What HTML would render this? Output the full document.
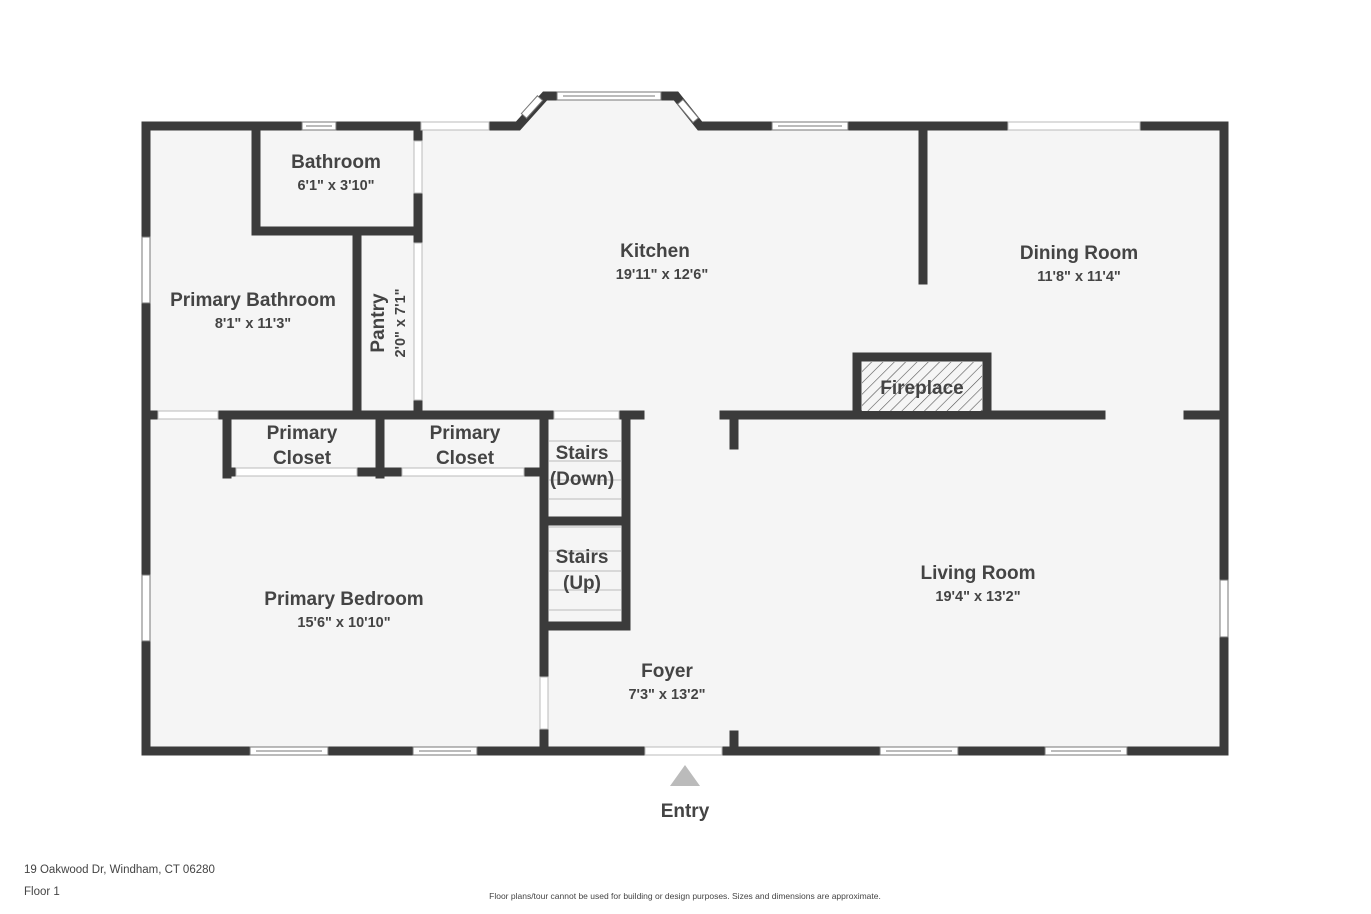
<!DOCTYPE html>
<html><head><meta charset="utf-8"><style>
html,body{margin:0;padding:0;background:#fff;}
svg{display:block;}
text{font-family:"Liberation Sans",sans-serif;fill:#444;}
.b{font-weight:bold;font-size:19px;}
.d{font-weight:bold;font-size:14.5px;}
</style></head><body>
<svg width="1371" height="914" viewBox="0 0 1371 914" xmlns="http://www.w3.org/2000/svg">
<defs>
<pattern id="h" width="8" height="8" patternUnits="userSpaceOnUse" patternTransform="rotate(45)">
<rect width="8" height="8" fill="#f5f5f5"/><line x1="0" y1="0" x2="0" y2="8" stroke="#555" stroke-width="1.2"/>
</pattern>
</defs>
<!-- floor -->
<polygon points="146,126 518,126 545,96 676,96 700,126 1224,126 1224,751 146,751" fill="#f5f5f5"/>
<g stroke="#3b3b3b" stroke-width="9" fill="none" stroke-linecap="square">
<!-- outer -->
<polyline points="146,751 146,126 490,126"/>
<polyline points="490,126 518,126 545,96 676,96 700,126 1224,126 1224,751 146,751"/>
<!-- bathroom -->
<line x1="256" y1="126" x2="256" y2="231"/>
<line x1="256" y1="231" x2="418" y2="231"/>
<line x1="418" y1="126" x2="418" y2="415"/>
<line x1="357" y1="231" x2="357" y2="415"/>
<!-- y=415 -->
<line x1="146" y1="415" x2="640" y2="415"/>
<line x1="227" y1="415" x2="227" y2="474"/>
<line x1="380" y1="415" x2="380" y2="474"/>
<line x1="227" y1="472" x2="544" y2="472"/>
<line x1="544" y1="415" x2="544" y2="751"/>
<line x1="626" y1="415" x2="626" y2="626"/>
<line x1="544" y1="521" x2="626" y2="521"/>
<line x1="544" y1="626" x2="626" y2="626"/>
<!-- right interior -->
<line x1="923" y1="126" x2="923" y2="280"/>
<line x1="724" y1="415" x2="1101" y2="415"/>
<line x1="1188" y1="415" x2="1224" y2="415"/>
<line x1="734" y1="415" x2="734" y2="445"/>
<line x1="734" y1="735" x2="734" y2="751"/>
<rect x="857" y="357" width="130" height="58"/>
</g>
<rect x="862" y="362" width="120" height="49" fill="url(#h)"/>
<!-- openings (white gaps) -->
<g fill="#fff" stroke="#bbb" stroke-width="1">
<rect x="421" y="122" width="68" height="8"/>
<rect x="414" y="141" width="8" height="52"/>
<rect x="414" y="243" width="8" height="157"/>
<rect x="158" y="411" width="60" height="8"/>
<rect x="236" y="468" width="121" height="8"/>
<rect x="402" y="468" width="122" height="8"/>
<rect x="554" y="411" width="65" height="8"/>
<rect x="540" y="677" width="8" height="52"/>
<rect x="645" y="747" width="77" height="8"/>
<rect x="1008" y="122" width="132" height="8"/>
</g>
<!-- windows -->
<g fill="#fff" stroke="#777" stroke-width="1">
<rect x="302" y="122" width="34" height="8"/><line x1="306" y1="126" x2="332" y2="126"/>
<rect x="557" y="92" width="104" height="8"/><line x1="563" y1="96" x2="655" y2="96"/>
<rect x="772" y="122" width="76" height="8"/><line x1="778" y1="126" x2="842" y2="126"/>
<rect x="142" y="237" width="8" height="66"/>
<rect x="142" y="575" width="8" height="66"/>
<rect x="1220" y="580" width="8" height="57"/>
<rect x="250" y="747" width="78" height="8"/><line x1="256" y1="751" x2="322" y2="751"/>
<rect x="413" y="747" width="64" height="8"/><line x1="419" y1="751" x2="471" y2="751"/>
<rect x="880" y="747" width="78" height="8"/><line x1="886" y1="751" x2="952" y2="751"/>
<rect x="1045" y="747" width="82" height="8"/><line x1="1051" y1="751" x2="1121" y2="751"/>
<g transform="translate(532,107) rotate(-48)"><rect x="-12" y="-3.5" width="24" height="7"/></g>
<g transform="translate(688,111) rotate(50)"><rect x="-12" y="-3.5" width="24" height="7"/></g>
</g>
<!-- stair treads -->
<g stroke="#bbb" stroke-width="1">
<line x1="549" y1="441" x2="621" y2="441"/><line x1="549" y1="461" x2="621" y2="461"/>
<line x1="549" y1="480" x2="621" y2="480"/><line x1="549" y1="499" x2="621" y2="499"/>
<line x1="549" y1="527" x2="621" y2="527"/><line x1="549" y1="551" x2="621" y2="551"/>
<line x1="549" y1="571" x2="621" y2="571"/><line x1="549" y1="590" x2="621" y2="590"/>
<line x1="549" y1="610" x2="621" y2="610"/>
</g>
<!-- labels -->
<g text-anchor="middle">
<text class="b" x="336" y="168">Bathroom</text><text class="d" x="336" y="190">6'1" x 3'10"</text>
<text class="b" x="655" y="257">Kitchen</text><text class="d" x="662" y="279">19'11" x 12'6"</text>
<text class="b" x="1079" y="259">Dining Room</text><text class="d" x="1079" y="281">11'8" x 11'4"</text>
<text class="b" x="253" y="306">Primary Bathroom</text><text class="d" x="253" y="328">8'1" x 11'3"</text>
<text class="b" transform="translate(384,323) rotate(-90)">Pantry</text>
<text class="d" transform="translate(405,323) rotate(-90)">2'0" x 7'1"</text>
<text class="b" x="922" y="394">Fireplace</text>
<text class="b" x="302" y="439">Primary</text><text class="b" x="302" y="464">Closet</text>
<text class="b" x="465" y="439">Primary</text><text class="b" x="465" y="464">Closet</text>
<text class="b" x="582" y="459">Stairs</text><text class="b" x="582" y="485">(Down)</text>
<text class="b" x="582" y="563">Stairs</text><text class="b" x="582" y="589">(Up)</text>
<text class="b" x="978" y="579">Living Room</text><text class="d" x="978" y="601">19'4" x 13'2"</text>
<text class="b" x="344" y="605">Primary Bedroom</text><text class="d" x="344" y="627">15'6" x 10'10"</text>
<text class="b" x="667" y="677">Foyer</text><text class="d" x="667" y="699">7'3" x 13'2"</text>
<text class="b" x="685" y="817">Entry</text>
</g>
<polygon points="670,786 700,786 685,765" fill="#bbb"/>
<text x="24" y="873" style="font-size:11.5px">19 Oakwood Dr, Windham, CT 06280</text>
<text x="24" y="895" style="font-size:11.5px">Floor 1</text>
<text x="685" y="899" text-anchor="middle" style="font-size:8.5px">Floor plans/tour cannot be used for building or design purposes. Sizes and dimensions are approximate.</text>
</svg>
</body></html>
